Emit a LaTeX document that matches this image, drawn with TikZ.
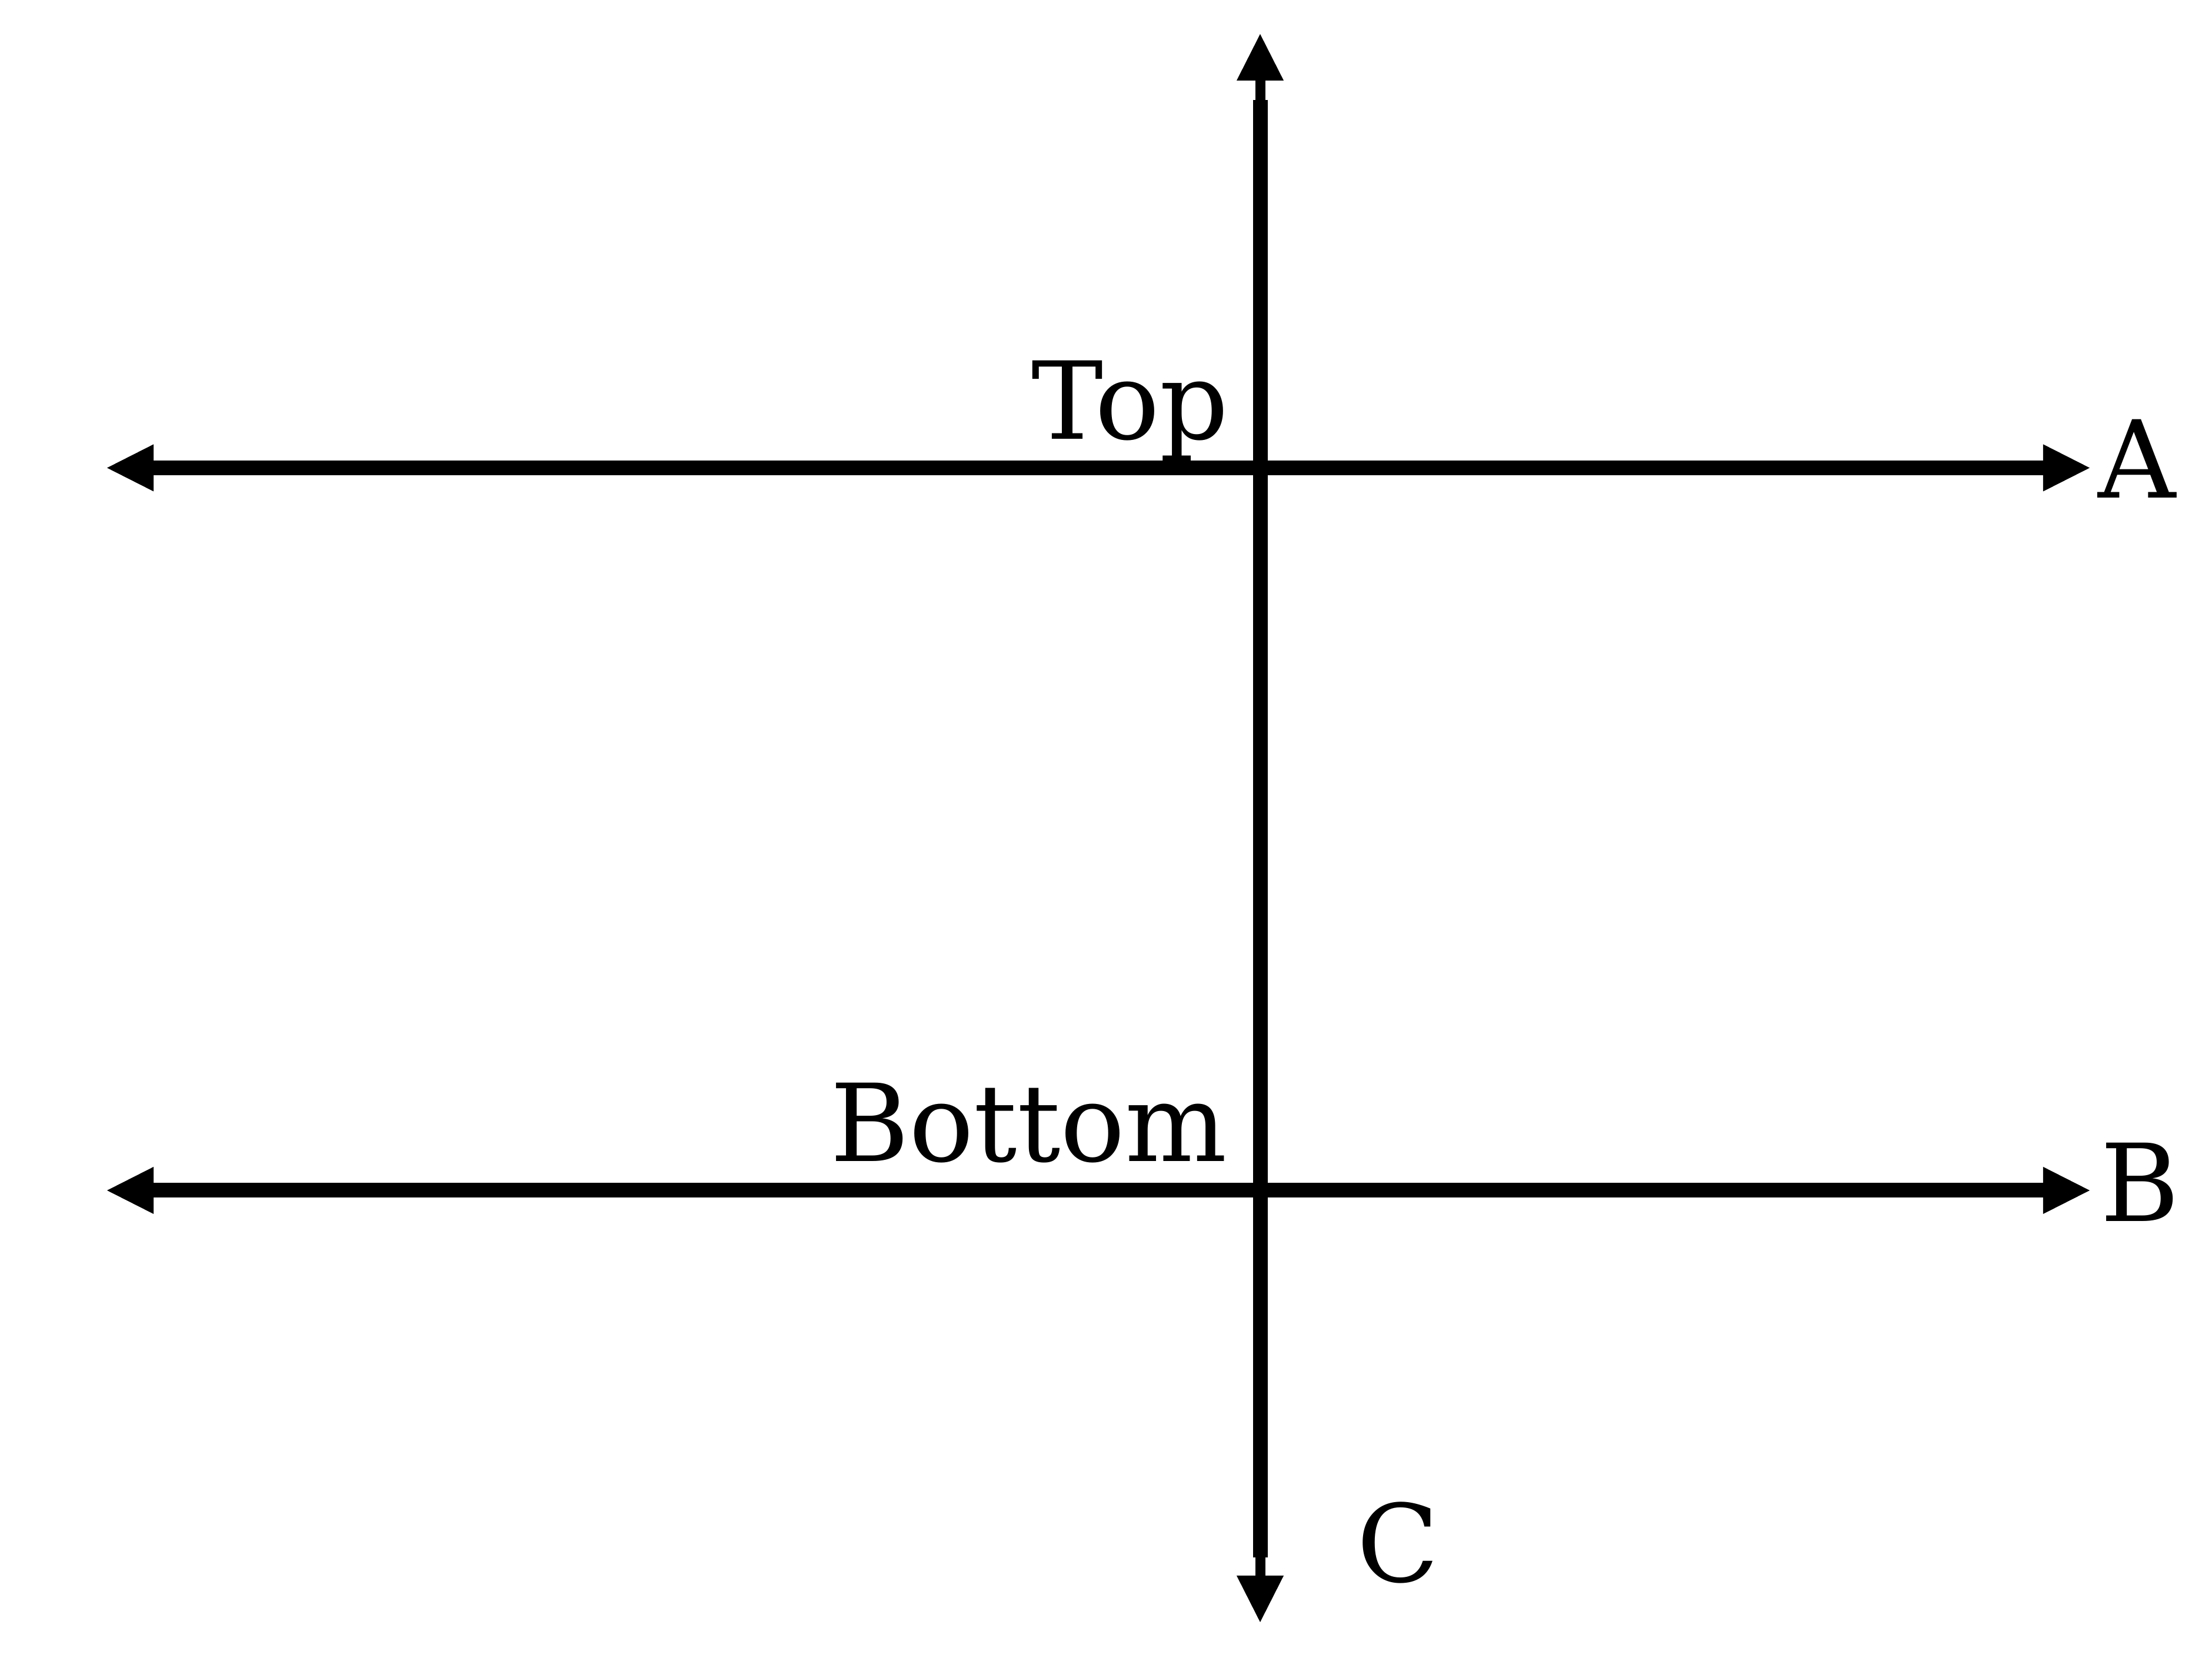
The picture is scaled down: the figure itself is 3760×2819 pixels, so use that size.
\documentclass[tikz,border=0pt]{standalone}
\usepackage{fontspec}
\setmainfont{DejaVu Serif}
\usetikzlibrary{arrows.meta}
\tikzset{
  axisline/.style={line width=0.25cm, line cap=butt},
  stemline/.style={line width=0.17cm, line cap=butt},
  headtip/.tip={Triangle[length=0.79cm, width=0.8cm, line width=0pt]},
  lbl/.style={inner sep=0pt, font=\fontsize{52}{60}\selectfont}
}
\begin{document}
\begin{tikzpicture}[x=0.01cm, y=0.01cm]
\useasboundingbox (0,0) rectangle (3760,2819);
% vertical axis
\coordinate (vtop) at (2142,2649);
\coordinate (vbot) at (2142,171);
\coordinate (vtiptop) at (2142,2761);
\coordinate (vtipbot) at (2142,61);
% horizontal lines
\coordinate (aleft) at (182,2023.5);
\coordinate (aright) at (3552,2023.5);
\coordinate (bleft) at (182,795);
\coordinate (bright) at (3552,795);

\draw[axisline] (vtop) -- (vbot);
\draw[stemline, -{headtip}] (vtop) -- (vtiptop);
\draw[stemline, -{headtip}] (vbot) -- (vtipbot);
\draw[axisline, {headtip}-{headtip}] (aleft) -- (aright);
\draw[axisline, {headtip}-{headtip}] (bleft) -- (bright);

\node[lbl, anchor=base east] (top) at (2089,2072) {Top};
\node[lbl, anchor=base east] (bottom) at (2087,844) {Bottom};
\node[lbl, anchor=base west] (a) at (3566,1972) {A};
\node[lbl, anchor=base west] (b) at (3570,742) {B};
\node[lbl, anchor=base west] (c) at (2306,129) {C};
\end{tikzpicture}
\end{document}
